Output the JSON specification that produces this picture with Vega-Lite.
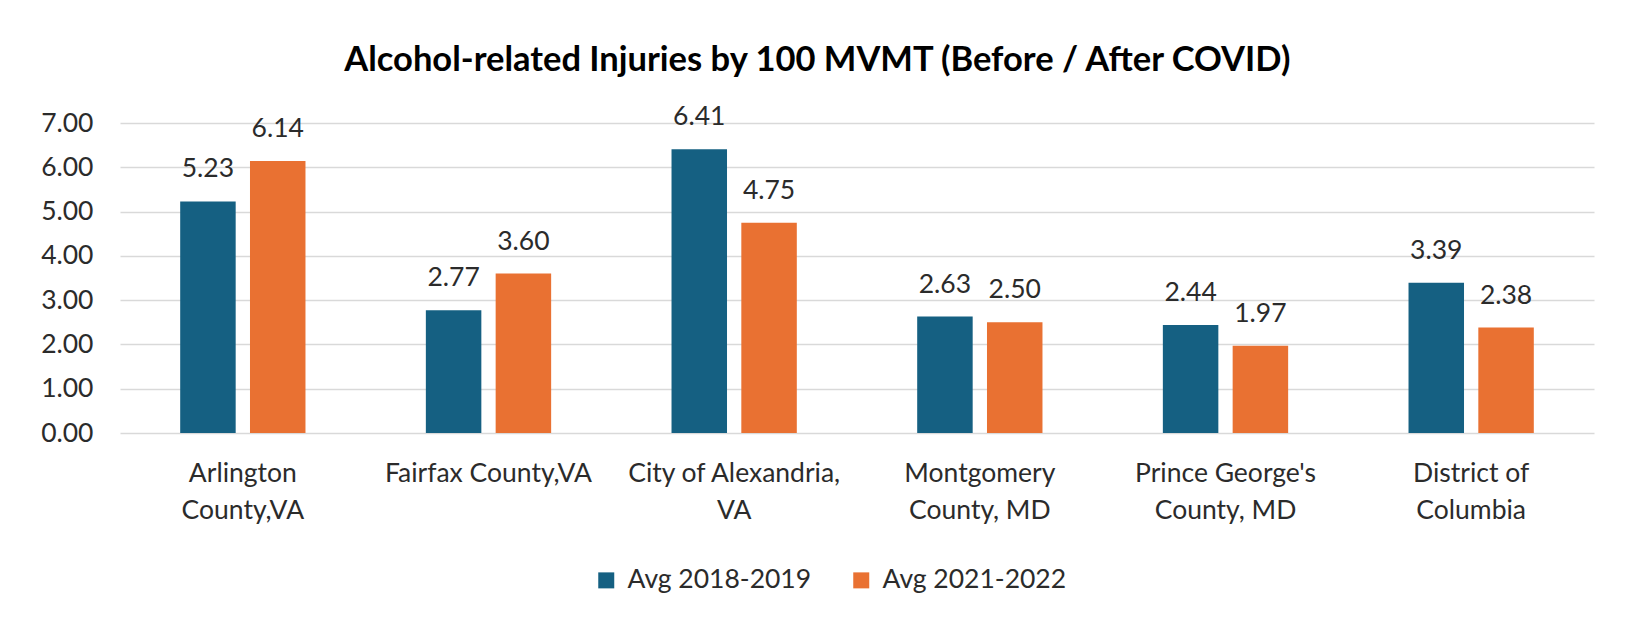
{
  "$schema": "https://vega.github.io/schema/vega-lite/v6.json",
  "autosize": {"type": "none"},
  "width": 1474,
  "height": 310,
  "padding": {"left": 120, "top": 123, "right": 32, "bottom": 190},
  "background": "white",
  "title": {
    "text": "Alcohol-related Injuries by 100 MVMT (Before / After COVID)",
    "font": "Lato",
    "fontSize": 34.5,
    "fontWeight": "bold",
    "color": "#000000",
    "anchor": "middle",
    "frame": "bounds",
    "offset": 26
  },
  "config": {
    "font": "Lato",
    "view": {"stroke": null}
  },
  "data": {
    "values": [
      {"county": "Arlington|County,VA", "period": "Avg 2018-2019", "value": 5.23},
      {"county": "Arlington|County,VA", "period": "Avg 2021-2022", "value": 6.14},
      {"county": "Fairfax County,VA", "period": "Avg 2018-2019", "value": 2.77},
      {"county": "Fairfax County,VA", "period": "Avg 2021-2022", "value": 3.60},
      {"county": "City of Alexandria,|VA", "period": "Avg 2018-2019", "value": 6.41},
      {"county": "City of Alexandria,|VA", "period": "Avg 2021-2022", "value": 4.75},
      {"county": "Montgomery|County, MD", "period": "Avg 2018-2019", "value": 2.63},
      {"county": "Montgomery|County, MD", "period": "Avg 2021-2022", "value": 2.50},
      {"county": "Prince George's|County, MD", "period": "Avg 2018-2019", "value": 2.44},
      {"county": "Prince George's|County, MD", "period": "Avg 2021-2022", "value": 1.97},
      {"county": "District of|Columbia", "period": "Avg 2018-2019", "value": 3.39},
      {"county": "District of|Columbia", "period": "Avg 2021-2022", "value": 2.38}
    ]
  },
  "encoding": {
    "x": {
      "field": "county",
      "type": "nominal",
      "sort": null,
      "title": null,
      "scale": {"paddingInner": 0.49, "paddingOuter": 0.245},
      "axis": {
        "labelAngle": 0,
        "ticks": false,
        "domain": false,
        "grid": false,
        "labelPadding": 27,
        "labelFontSize": 26.5,
        "labelFont": "Lato",
        "labelColor": "#2b2b2b",
        "labelLineHeight": 37,
        "labelLimit": 400,
        "labelExpr": "split(datum.label, '|')"
      }
    },
    "xOffset": {
      "field": "period",
      "type": "nominal",
      "scale": {"paddingInner": 0.205, "paddingOuter": 0}
    },
    "y": {
      "field": "value",
      "type": "quantitative",
      "title": null,
      "scale": {"domain": [0, 7], "nice": false},
      "axis": {
        "values": [0, 1, 2, 3, 4, 5, 6, 7],
        "format": ".2f",
        "ticks": false,
        "domain": false,
        "grid": true,
        "gridColor": "#d9d9d9",
        "gridWidth": 1.5,
        "labelPadding": 27,
        "labelFontSize": 26.5,
        "labelFont": "Lato",
        "labelColor": "#2b2b2b"
      }
    }
  },
  "layer": [
    {
      "mark": {"type": "bar"},
      "encoding": {
        "color": {
          "field": "period",
          "type": "nominal",
          "scale": {"domain": ["Avg 2018-2019", "Avg 2021-2022"], "range": ["#156082", "#E97132"]},
          "legend": {
            "title": null,
            "orient": "none",
            "direction": "horizontal",
            "legendX": 473,
            "legendY": 444,
            "symbolType": "square",
            "symbolSize": 256,
            "symbolStrokeWidth": 0,
            "labelFontSize": 26.5,
            "labelFont": "Lato",
            "labelColor": "#2b2b2b",
            "labelOffset": 8,
            "columnPadding": 36,
            "labelLimit": 400
          }
        }
      }
    },
    {
      "mark": {"type": "text", "baseline": "middle", "dy": -32, "fontSize": 26.5, "font": "Lato", "color": "#2b2b2b"},
      "encoding": {
        "text": {"field": "value", "type": "quantitative", "format": ".2f"}
      }
    }
  ]
}
